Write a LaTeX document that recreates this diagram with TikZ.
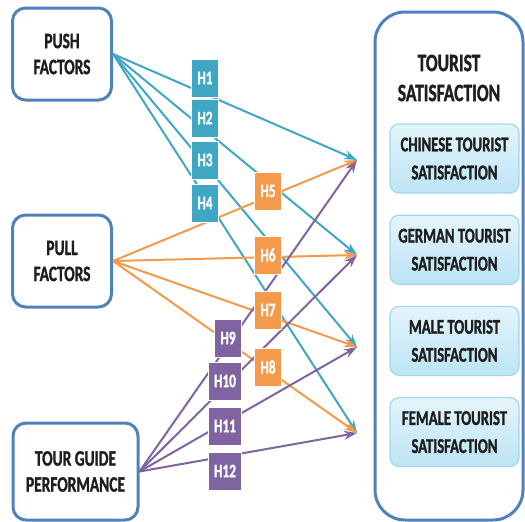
\documentclass[tikz,border=0pt]{standalone}
\usepackage{fontspec}
\setmainfont{Carlito}[FakeStretch=0.7,BoldFeatures={FakeBold=1.2}]
\usetikzlibrary{arrows.meta,positioning}

\definecolor{frameblue}{HTML}{4F81BD}
\definecolor{hteal}{HTML}{3FA7C4}
\definecolor{horange}{HTML}{F59A4A}
\definecolor{hpurple}{HTML}{8064A2}
\definecolor{skytop}{HTML}{E4F5FC}
\definecolor{skybot}{HTML}{BCE4F5}
\definecolor{skyline}{HTML}{A3D7EE}
\definecolor{inkgray}{HTML}{1E1E1E}

\begin{document}
\begin{tikzpicture}[x=1pt,y=-1pt,>={Stealth[length=13pt,width=9pt]},line width=2pt,
  factor/.style={draw=frameblue,line width=3pt,rounded corners=13pt,fill=white,align=center,
    text=inkgray,font=\bfseries\fontsize{22}{26}\selectfont,minimum width=99pt,minimum height=92pt},
  group/.style={draw=skyline,line width=1.2pt,rounded corners=9pt,top color=skytop,bottom color=skybot,
    align=center,text=inkgray,font=\bfseries\fontsize{21}{28}\selectfont,minimum width=129pt,minimum height=69pt},
  hyp/.style={fill=#1,draw=white,line width=1pt,text=white,font=\bfseries\fontsize{19}{19}\selectfont,
    minimum width=27pt,minimum height=38pt,inner sep=0pt}]
   \useasboundingbox (0,0) rectangle (525,522);

   % independent variables
   \node[factor] (push)  at (62,54)  {PUSH\\FACTORS};
   \node[factor] (pull)  at (62,261) {PULL\\FACTORS};
   \node[factor,minimum width=125pt,minimum height=97pt] (guide) at (75.5,471.5) {TOUR GUIDE\\PERFORMANCE};

   % dependent variable with its four groups
   \node[draw=frameblue,line width=3pt,rounded corners=30pt,minimum width=148pt,minimum height=508pt] (sat) at (449,266) {};
   \node[text=inkgray,align=center,font=\bfseries\fontsize{25}{30}\selectfont] (title) at (449,78) {TOURIST\\SATISFACTION};
   \node[group] (chinese) at (454.5,158.5) {CHINESE TOURIST\\SATISFACTION};
   \node[group] (german)  [below=21pt of chinese] {GERMAN TOURIST\\SATISFACTION};
   \node[group] (male)    [below=21pt of german]  {MALE TOURIST\\SATISFACTION};
   \node[group] (female)  [below=21pt of male]    {FEMALE TOURIST\\SATISFACTION};

   % where the arrows meet
   \coordinate (t1) at (357,160);
   \coordinate (t2) at (357,255);
   \coordinate (t3) at (357,347);
   \coordinate (t4) at (357,433);

   \path[->,hteal] (push.east) edge (t1) edge (t2) edge (t3) edge (t4);
   \path[->,horange] (pull.east) edge (t1) edge (t2) edge (t3) edge (t4);
   \path[->,hpurple] (guide.east) edge (t1) edge (t2) edge (t3) edge (t4);

   % hypotheses
   \node[hyp=hteal] (H1) at (205,78)  {H1};
   \node[hyp=hteal] (H2) at (205,118) {H2};
   \node[hyp=hteal] (H3) at (205,160) {H3};
   \node[hyp=hteal] (H4) at (205,203) {H4};
   \node[hyp=horange] (H5) at (268,191) {H5};
   \node[hyp=horange] (H6) at (268,255) {H6};
   \node[hyp=horange] (H7) at (268,310) {H7};
   \node[hyp=horange] (H8) at (268,367) {H8};
   \node[hyp=hpurple] (H9)  at (228,338) {H9};
   \node[hyp=hpurple,minimum width=33pt] (H10) at (225,381) {H10};
   \node[hyp=hpurple,minimum width=33pt] (H11) at (225,426) {H11};
   \node[hyp=hpurple,minimum width=33pt] (H12) at (225,471) {H12};
\end{tikzpicture}
\end{document}
